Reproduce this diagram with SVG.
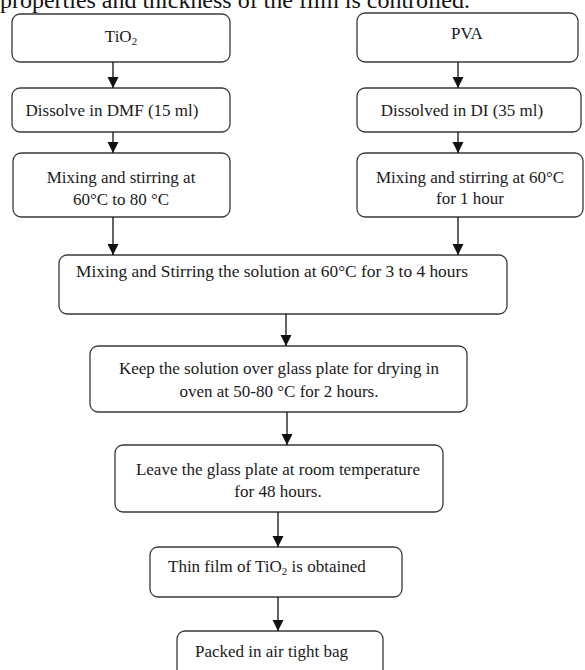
<svg xmlns="http://www.w3.org/2000/svg" width="585" height="670" viewBox="0 0 585 670">
<style>
.box{fill:#fff;stroke:#3a3a3a;stroke-width:1.3}
.t{font-family:"Liberation Serif","Times New Roman",serif;font-size:17px;fill:#1a1a1a}
.c{text-anchor:middle}
.hdr{font-family:"Liberation Serif","Times New Roman",serif;font-size:24px;fill:#111}
.conn line{stroke:#111;stroke-width:1.3}
</style>
<defs>
<marker id="ah" viewBox="0 0 10 10" refX="10" refY="5" markerWidth="11" markerHeight="12" markerUnits="userSpaceOnUse" orient="auto">
<path d="M0,0 L10,5 L0,10 Z" fill="#111"/>
</marker>
</defs>
<rect width="585" height="670" fill="#fff"/>
<text class="hdr" x="0" y="8" textLength="470" lengthAdjust="spacingAndGlyphs">properties and thickness of the film is controlled.</text>

<g id="n-tio2"><rect class="box" x="12" y="14" width="218" height="48" rx="8"/><text class="t c" x="121" y="42">TiO<tspan font-size="11" dy="3">2</tspan></text></g>
<g id="n-pva"><rect class="box" x="357" y="13" width="221" height="49" rx="8"/><text class="t c" x="467" y="39">PVA</text></g>
<g id="n-dmf"><rect class="box" x="12" y="88" width="218" height="44" rx="8"/><text class="t c" x="112" y="116">Dissolve in DMF (15 ml)</text></g>
<g id="n-di"><rect class="box" x="357" y="88" width="224" height="44" rx="8"/><text class="t c" x="462" y="116">Dissolved in DI (35 ml)</text></g>
<g id="n-mix1"><rect class="box" x="13" y="153" width="217" height="64" rx="8"/><text class="t c" x="121" y="183">Mixing and stirring at</text><text class="t c" x="121" y="205">60°C to 80 °C</text></g>
<g id="n-mix2"><rect class="box" x="357" y="153" width="226" height="64" rx="8"/><text class="t c" x="470" y="183">Mixing and stirring at 60°C</text><text class="t c" x="470" y="204">for 1 hour</text></g>
<g id="n-mix3"><rect class="box" x="59" y="255" width="448" height="59" rx="8"/><text class="t" x="76" y="277" textLength="392" lengthAdjust="spacingAndGlyphs">Mixing and Stirring the solution at 60°C for 3 to 4 hours</text></g>
<g id="n-keep"><rect class="box" x="90" y="346" width="377" height="66" rx="8"/><text class="t c" x="279" y="374">Keep the solution over glass plate for drying in</text><text class="t c" x="279" y="397">oven at 50-80 °C for 2 hours.</text></g>
<g id="n-leave"><rect class="box" x="115" y="445" width="328" height="67" rx="8"/><text class="t c" x="278" y="475">Leave the glass plate at room temperature</text><text class="t c" x="278" y="497">for 48 hours.</text></g>
<g id="n-thin"><rect class="box" x="150" y="547" width="252" height="50" rx="8"/><text class="t" x="168" y="572">Thin film of TiO<tspan font-size="11" dy="3">2</tspan><tspan dy="-3"> is obtained</tspan></text></g>
<g id="n-pack"><rect class="box" x="177" y="631" width="206" height="50" rx="8"/><text class="t" x="195" y="657">Packed in air tight bag</text></g>

<g id="connectors" class="conn">
<line x1="113" y1="62" x2="113" y2="88" marker-end="url(#ah)"/>
<line x1="458" y1="62" x2="458" y2="88" marker-end="url(#ah)"/>
<line x1="113" y1="132" x2="113" y2="153" marker-end="url(#ah)"/>
<line x1="458" y1="132" x2="458" y2="153" marker-end="url(#ah)"/>
<line x1="113" y1="217" x2="113" y2="255" marker-end="url(#ah)"/>
<line x1="458" y1="217" x2="458" y2="255" marker-end="url(#ah)"/>
<line x1="286" y1="314" x2="286" y2="346" marker-end="url(#ah)"/>
<line x1="287" y1="412" x2="287" y2="445" marker-end="url(#ah)"/>
<line x1="278" y1="512" x2="278" y2="547" marker-end="url(#ah)"/>
<line x1="278" y1="597" x2="278" y2="631" marker-end="url(#ah)"/>
</g>
</svg>
